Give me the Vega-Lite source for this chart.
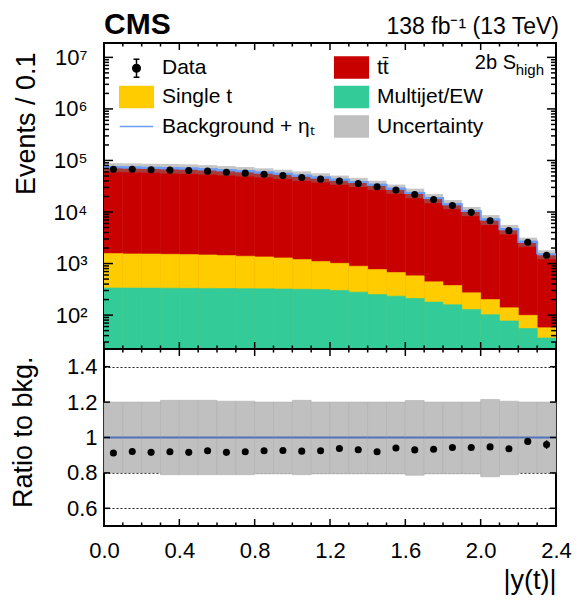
{
  "$schema": "https://vega.github.io/schema/vega-lite/v6.json",
  "padding": {"left": 8, "top": 8, "right": 20, "bottom": 4},
  "config": {
    "font": "Liberation Sans, Arial, sans-serif",
    "view": {"stroke": "black", "strokeWidth": 2},
    "axis": {
      "domain": false, "ticks": false, "zindex": 2, "grid": false,
      "labelColor": "black", "titleColor": "black", "labelFontSize": 22, "titleFontSize": 27,
      "titleFontWeight": "normal", "labelOverlap": false, "labelFlush": false
    },
    "legend": {
      "columns": 2, "columnPadding": 16, "rowPadding": 2.5, "symbolSize": 441, "symbolStrokeWidth": 1.5,
      "labelFontSize": 21, "labelOffset": 14, "labelLimit": 300, "padding": 0, "labelColor": "black"
    }
  },
  "datasets": {
    "xmaj": [{"v": 0}, {"v": 0.4}, {"v": 0.8}, {"v": 1.2}, {"v": 1.6}, {"v": 2}, {"v": 2.4}],
    "xmin": [{"v": 0.1}, {"v": 0.2}, {"v": 0.3}, {"v": 0.5}, {"v": 0.6}, {"v": 0.7}, {"v": 0.9}, {"v": 1}, {"v": 1.1}, {"v": 1.3}, {"v": 1.4}, {"v": 1.5}, {"v": 1.7}, {"v": 1.8}, {"v": 1.9}, {"v": 2.1}, {"v": 2.2}, {"v": 2.3}],
    "ymaj": [{"v": 100}, {"v": 1000}, {"v": 10000}, {"v": 100000}, {"v": 1000000}, {"v": 10000000}],
    "ymin": [{"v": 30}, {"v": 40}, {"v": 50}, {"v": 60}, {"v": 70}, {"v": 80}, {"v": 90},
      {"v": 200}, {"v": 300}, {"v": 400}, {"v": 500}, {"v": 600}, {"v": 700}, {"v": 800}, {"v": 900},
      {"v": 2000}, {"v": 3000}, {"v": 4000}, {"v": 5000}, {"v": 6000}, {"v": 7000}, {"v": 8000}, {"v": 9000},
      {"v": 20000}, {"v": 30000}, {"v": 40000}, {"v": 50000}, {"v": 60000}, {"v": 70000}, {"v": 80000}, {"v": 90000},
      {"v": 200000}, {"v": 300000}, {"v": 400000}, {"v": 500000}, {"v": 600000}, {"v": 700000}, {"v": 800000}, {"v": 900000},
      {"v": 2000000}, {"v": 3000000}, {"v": 4000000}, {"v": 5000000}, {"v": 6000000}, {"v": 7000000}, {"v": 8000000}, {"v": 9000000}],
    "rmaj": [{"v": 0.6}, {"v": 0.8}, {"v": 1}, {"v": 1.2}, {"v": 1.4}]
  },
  "data": {
    "values": [
      {"lo": 0.0, "hi": 0.1, "mid": 0.05, "mj": 336, "st": 1560, "bkg": 74000, "unc_lo": 59200, "unc_hi": 88800, "data": 67800, "ratio": 0.912, "rerr": 0.005, "dn": 0.80, "up": 1.20, "eta": 1.0},
      {"lo": 0.1, "hi": 0.2, "mid": 0.15, "mj": 335, "st": 1540, "bkg": 73300, "unc_lo": 58640, "unc_hi": 87960, "data": 67600, "ratio": 0.921, "rerr": 0.005, "dn": 0.80, "up": 1.20, "eta": 1.0},
      {"lo": 0.2, "hi": 0.3, "mid": 0.25, "mj": 334, "st": 1530, "bkg": 72000, "unc_lo": 57600, "unc_hi": 86400, "data": 65800, "ratio": 0.916, "rerr": 0.005, "dn": 0.80, "up": 1.20, "eta": 1.0},
      {"lo": 0.3, "hi": 0.4, "mid": 0.35, "mj": 333, "st": 1514, "bkg": 70700, "unc_lo": 55850, "unc_hi": 85550, "data": 64900, "ratio": 0.919, "rerr": 0.005, "dn": 0.79, "up": 1.21, "eta": 1.0},
      {"lo": 0.4, "hi": 0.5, "mid": 0.45, "mj": 331, "st": 1492, "bkg": 69500, "unc_lo": 54900, "unc_hi": 84100, "data": 63700, "ratio": 0.916, "rerr": 0.005, "dn": 0.79, "up": 1.21, "eta": 1.0},
      {"lo": 0.5, "hi": 0.6, "mid": 0.55, "mj": 330, "st": 1471, "bkg": 67200, "unc_lo": 53090, "unc_hi": 81310, "data": 62100, "ratio": 0.925, "rerr": 0.005, "dn": 0.79, "up": 1.21, "eta": 1.0},
      {"lo": 0.6, "hi": 0.7, "mid": 0.65, "mj": 328, "st": 1429, "bkg": 64700, "unc_lo": 51110, "unc_hi": 77960, "data": 59300, "ratio": 0.916, "rerr": 0.005, "dn": 0.79, "up": 1.205, "eta": 1.0},
      {"lo": 0.7, "hi": 0.8, "mid": 0.75, "mj": 326, "st": 1388, "bkg": 61800, "unc_lo": 48820, "unc_hi": 74470, "data": 56800, "ratio": 0.919, "rerr": 0.005, "dn": 0.79, "up": 1.205, "eta": 1.0},
      {"lo": 0.8, "hi": 0.9, "mid": 0.85, "mj": 324, "st": 1347, "bkg": 58600, "unc_lo": 46590, "unc_hi": 70320, "data": 54200, "ratio": 0.925, "rerr": 0.006, "dn": 0.795, "up": 1.20, "eta": 1.0},
      {"lo": 0.9, "hi": 1.0, "mid": 0.95, "mj": 321, "st": 1288, "bkg": 55100, "unc_lo": 43800, "unc_hi": 66120, "data": 51100, "ratio": 0.927, "rerr": 0.006, "dn": 0.795, "up": 1.20, "eta": 1.0},
      {"lo": 1.0, "hi": 1.1, "mid": 1.05, "mj": 318, "st": 1194, "bkg": 50800, "unc_lo": 40130, "unc_hi": 61470, "data": 46900, "ratio": 0.923, "rerr": 0.006, "dn": 0.79, "up": 1.21, "eta": 1.0},
      {"lo": 1.1, "hi": 1.2, "mid": 1.15, "mj": 314, "st": 1093, "bkg": 46900, "unc_lo": 37290, "unc_hi": 56280, "data": 43400, "ratio": 0.925, "rerr": 0.006, "dn": 0.795, "up": 1.20, "eta": 1.0},
      {"lo": 1.2, "hi": 1.3, "mid": 1.25, "mj": 301, "st": 1010, "bkg": 42400, "unc_lo": 33710, "unc_hi": 50880, "data": 39700, "ratio": 0.938, "rerr": 0.007, "dn": 0.795, "up": 1.20, "eta": 1.0},
      {"lo": 1.3, "hi": 1.4, "mid": 1.35, "mj": 279, "st": 888, "bkg": 38300, "unc_lo": 30450, "unc_hi": 45960, "data": 35700, "ratio": 0.931, "rerr": 0.007, "dn": 0.795, "up": 1.20, "eta": 1.0},
      {"lo": 1.4, "hi": 1.5, "mid": 1.45, "mj": 251, "st": 765, "bkg": 33700, "unc_lo": 26790, "unc_hi": 40440, "data": 30900, "ratio": 0.919, "rerr": 0.007, "dn": 0.795, "up": 1.20, "eta": 1.0},
      {"lo": 1.5, "hi": 1.6, "mid": 1.55, "mj": 233, "st": 670, "bkg": 28400, "unc_lo": 22580, "unc_hi": 34080, "data": 26700, "ratio": 0.941, "rerr": 0.008, "dn": 0.795, "up": 1.20, "eta": 1.0},
      {"lo": 1.6, "hi": 1.7, "mid": 1.65, "mj": 210, "st": 577, "bkg": 23500, "unc_lo": 18490, "unc_hi": 28410, "data": 21900, "ratio": 0.930, "rerr": 0.008, "dn": 0.787, "up": 1.209, "eta": 1.0},
      {"lo": 1.7, "hi": 1.8, "mid": 1.75, "mj": 179, "st": 442, "bkg": 18600, "unc_lo": 14790, "unc_hi": 22320, "data": 17400, "ratio": 0.934, "rerr": 0.009, "dn": 0.795, "up": 1.20, "eta": 1.0},
      {"lo": 1.8, "hi": 1.9, "mid": 1.85, "mj": 159, "st": 375, "bkg": 14200, "unc_lo": 11290, "unc_hi": 17040, "data": 13400, "ratio": 0.943, "rerr": 0.010, "dn": 0.795, "up": 1.20, "eta": 1.0},
      {"lo": 1.9, "hi": 2.0, "mid": 1.95, "mj": 129, "st": 271, "bkg": 10450, "unc_lo": 8310, "unc_hi": 12540, "data": 9850, "ratio": 0.943, "rerr": 0.011, "dn": 0.795, "up": 1.20, "eta": 1.0},
      {"lo": 2.0, "hi": 2.1, "mid": 2.05, "mj": 102, "st": 201, "bkg": 7170, "unc_lo": 5580, "unc_hi": 8710, "data": 6790, "ratio": 0.947, "rerr": 0.013, "dn": 0.778, "up": 1.215, "eta": 1.0},
      {"lo": 2.1, "hi": 2.2, "mid": 2.15, "mj": 77, "st": 139, "bkg": 4650, "unc_lo": 3670, "unc_hi": 5600, "data": 4350, "ratio": 0.936, "rerr": 0.015, "dn": 0.79, "up": 1.205, "eta": 1.0},
      {"lo": 2.2, "hi": 2.3, "mid": 2.25, "mj": 55, "st": 99, "bkg": 2650, "unc_lo": 2120, "unc_hi": 3180, "data": 2590, "ratio": 0.978, "rerr": 0.018, "dn": 0.80, "up": 1.20, "eta": 1.0},
      {"lo": 2.3, "hi": 2.4, "mid": 2.35, "mj": 36, "st": 57, "bkg": 1510, "unc_lo": 1210, "unc_hi": 1810, "data": 1450, "ratio": 0.960, "rerr": 0.024, "dn": 0.80, "up": 1.20, "eta": 1.0}
    ]
  },
  "spacing": 0,
  "bounds": "flush",
  "resolve": {"scale": {"fill": "independent", "stroke": "independent", "shape": "independent"}},
  "vconcat": [
    {
      "width": 452,
      "height": 306,
      "resolve": {"axis": {"x": "independent", "y": "independent"}},
      "layer": [
        {
          "mark": {"type": "rect", "color": "#c80000", "stroke": "#c80000", "strokeWidth": 0.6, "clip": true},
          "encoding": {
            "x": {"field": "lo", "type": "quantitative", "scale": {"domain": [0, 2.4], "nice": false, "zero": false}, "axis": null},
            "x2": {"field": "hi"},
            "y": {"field": "bkg", "type": "quantitative", "scale": {"type": "log", "domain": [22, 19000000], "nice": false},
              "axis": {"orient": "left", "title": "Events / 0.1", "titleAnchor": "end", "titleY": 9, "titlePadding": 13,
                "labelPadding": 17, "values": [100, 1000, 10000, 100000, 1000000, 10000000],
                "labelExpr": "'10' + ['⁰','¹','²','³','⁴','⁵','⁶','⁷','⁸'][round(log(datum.value)/LN10)]"}},
            "y2": {"datum": 1}
          }
        },
        {
          "mark": {"type": "rect", "color": "#ffcc00", "stroke": "#ffcc00", "strokeWidth": 0.6, "clip": true},
          "encoding": {
            "x": {"field": "lo", "type": "quantitative", "axis": null},
            "x2": {"field": "hi"},
            "y": {"field": "st", "type": "quantitative", "axis": null},
            "y2": {"datum": 1}
          }
        },
        {
          "mark": {"type": "rect", "color": "#33cc99", "stroke": "#33cc99", "strokeWidth": 0.6, "clip": true},
          "encoding": {
            "x": {"field": "lo", "type": "quantitative", "axis": null},
            "x2": {"field": "hi"},
            "y": {"field": "mj", "type": "quantitative", "axis": null},
            "y2": {"datum": 1}
          }
        },
        {
          "mark": {"type": "rect", "color": "#808080", "opacity": 0.45, "clip": true},
          "encoding": {
            "x": {"field": "lo", "type": "quantitative", "axis": null},
            "x2": {"field": "hi"},
            "y": {"field": "unc_lo", "type": "quantitative", "axis": null},
            "y2": {"field": "unc_hi"}
          }
        },
        {
          "mark": {"type": "line", "interpolate": "step-after", "color": "#6d9cf5", "strokeWidth": 2, "clip": true},
          "encoding": {
            "x": {"field": "lo", "type": "quantitative", "axis": null},
            "y": {"field": "bkg", "type": "quantitative", "axis": null}
          }
        },
        {
          "mark": {"type": "rule", "color": "#6d9cf5", "strokeWidth": 2},
          "encoding": {
            "x": {"field": "lo", "type": "quantitative", "axis": null},
            "x2": {"field": "hi"},
            "y": {"field": "bkg", "type": "quantitative", "axis": null}
          }
        },
        {
          "mark": {"type": "point", "filled": true, "color": "black", "size": 50, "opacity": 1},
          "encoding": {
            "x": {"field": "mid", "type": "quantitative", "axis": null},
            "y": {"field": "data", "type": "quantitative", "axis": null}
          }
        },
        {
          "data": {"name": "xmaj"},
          "mark": {"type": "rule", "color": "black", "strokeWidth": 1.5},
          "encoding": {
            "x": {"field": "v", "type": "quantitative", "axis": null},
            "y": {"datum": 22, "type": "quantitative", "axis": null},
            "y2": {"datum": 30}
          }
        },
        {
          "data": {"name": "xmaj"},
          "mark": {"type": "rule", "color": "black", "strokeWidth": 1.5},
          "encoding": {
            "x": {"field": "v", "type": "quantitative", "axis": null},
            "y": {"datum": 19000000, "type": "quantitative", "axis": null},
            "y2": {"datum": 13900000}
          }
        },
        {
          "data": {"name": "xmin"},
          "mark": {"type": "rule", "color": "black", "strokeWidth": 1.5},
          "encoding": {
            "x": {"field": "v", "type": "quantitative", "axis": null},
            "y": {"datum": 22, "type": "quantitative", "axis": null},
            "y2": {"datum": 25.7}
          }
        },
        {
          "data": {"name": "xmin"},
          "mark": {"type": "rule", "color": "black", "strokeWidth": 1.5},
          "encoding": {
            "x": {"field": "v", "type": "quantitative", "axis": null},
            "y": {"datum": 19000000, "type": "quantitative", "axis": null},
            "y2": {"datum": 16250000}
          }
        },
        {
          "data": {"name": "ymaj"},
          "mark": {"type": "rule", "color": "black", "strokeWidth": 1.5},
          "encoding": {
            "y": {"field": "v", "type": "quantitative", "axis": null},
            "x": {"datum": 0, "type": "quantitative", "axis": null},
            "x2": {"datum": 0.048}
          }
        },
        {
          "data": {"name": "ymaj"},
          "mark": {"type": "rule", "color": "black", "strokeWidth": 1.5},
          "encoding": {
            "y": {"field": "v", "type": "quantitative", "axis": null},
            "x": {"datum": 2.4, "type": "quantitative", "axis": null},
            "x2": {"datum": 2.352}
          }
        },
        {
          "data": {"name": "ymin"},
          "mark": {"type": "rule", "color": "black", "strokeWidth": 1.5},
          "encoding": {
            "y": {"field": "v", "type": "quantitative", "axis": null},
            "x": {"datum": 0, "type": "quantitative", "axis": null},
            "x2": {"datum": 0.0265}
          }
        },
        {
          "data": {"name": "ymin"},
          "mark": {"type": "rule", "color": "black", "strokeWidth": 1.5},
          "encoding": {
            "y": {"field": "v", "type": "quantitative", "axis": null},
            "x": {"datum": 2.4, "type": "quantitative", "axis": null},
            "x2": {"datum": 2.3735}
          }
        },
        {
          "data": {"values": [{"t": "CMS"}]},
          "mark": {"type": "text", "align": "left", "baseline": "alphabetic", "fontSize": 30, "fontWeight": "bold", "color": "black"},
          "encoding": {
            "x": {"datum": 0, "type": "quantitative", "axis": null},
            "y": {"datum": 28500000, "type": "quantitative", "axis": null},
            "text": {"field": "t"}
          }
        },
        {
          "data": {"values": [{"t": "138 fb⁻¹ (13 TeV)"}]},
          "mark": {"type": "text", "align": "right", "baseline": "alphabetic", "fontSize": 23, "dx": 3, "color": "black"},
          "encoding": {
            "x": {"datum": 2.4, "type": "quantitative", "axis": null},
            "y": {"datum": 28500000, "type": "quantitative", "axis": null},
            "text": {"field": "t"}
          }
        },
        {
          "data": {"values": [{"t": "2b S"}]},
          "mark": {"type": "text", "align": "right", "baseline": "alphabetic", "fontSize": 20, "dx": -40, "color": "black"},
          "encoding": {
            "x": {"datum": 2.4, "type": "quantitative", "axis": null},
            "y": {"datum": 6000000, "type": "quantitative", "axis": null},
            "text": {"field": "t"}
          }
        },
        {
          "data": {"values": [{"t": "high"}]},
          "mark": {"type": "text", "align": "right", "baseline": "alphabetic", "fontSize": 15, "dx": -12, "dy": 6, "color": "black"},
          "encoding": {
            "x": {"datum": 2.4, "type": "quantitative", "axis": null},
            "y": {"datum": 6000000, "type": "quantitative", "axis": null},
            "text": {"field": "t"}
          }
        },
        {
          "data": {"values": []},
          "mark": {"type": "point", "filled": true, "opacity": 1},
          "encoding": {
            "fill": {"datum": "Data",
              "scale": {"domain": ["Data", "Single t", "Background + ηₜ", "tt̄", "Multijet/EW", "Uncertainty"],
                "range": ["#000000", "#ffcc00", "#6d9cf5", "#c80000", "#33cc99", "#c0c0c0"]},
              "legend": {"title": null, "orient": "none", "legendX": 21, "legendY": 13}},
            "stroke": {"datum": "Data",
              "scale": {"domain": ["Data", "Single t", "Background + ηₜ", "tt̄", "Multijet/EW", "Uncertainty"],
                "range": ["#000000", "#ffcc00", "#6d9cf5", "#c80000", "#33cc99", "#c0c0c0"]},
              "legend": {"title": null, "orient": "none", "legendX": 21, "legendY": 13}},
            "shape": {"datum": "Data",
              "scale": {"domain": ["Data", "Single t", "Background + ηₜ", "tt̄", "Multijet/EW", "Uncertainty"],
                "range": ["M0,-0.85V0.85M-0.28,-0.85H0.28M-0.28,0.85H0.28M-0.36,0A0.36,0.36,0,1,0,0.36,0A0.36,0.36,0,1,0,-0.36,0Z",
                  "M-1.6,-1H1.6V1H-1.6Z", "M-1.6,0H1.6", "M-1.6,-1H1.6V1H-1.6Z", "M-1.6,-1H1.6V1H-1.6Z", "M-1.6,-1H1.6V1H-1.6Z"]},
              "legend": {"title": null, "orient": "none", "legendX": 21, "legendY": 13}}
          }
        }
      ]
    },
    {
      "width": 452,
      "height": 177,
      "resolve": {"axis": {"x": "independent", "y": "independent"}},
      "layer": [
        {
          "mark": {"type": "rect", "color": "#c0c0c0", "stroke": "#b0b0b0", "strokeWidth": 0.6},
          "encoding": {
            "x": {"field": "lo", "type": "quantitative", "scale": {"domain": [0, 2.4], "nice": false, "zero": false},
              "axis": {"orient": "bottom", "title": "|y(t)|", "titleAnchor": "end", "titlePadding": 6, "labelPadding": 14,
                "values": [0, 0.4, 0.8, 1.2, 1.6, 2, 2.4], "format": ".1f"}},
            "x2": {"field": "hi"},
            "y": {"field": "dn", "type": "quantitative", "scale": {"domain": [0.5, 1.5], "nice": false, "zero": false},
              "axis": {"orient": "left", "title": "Ratio to bkg.", "titleAnchor": "end", "titleY": 7, "titlePadding": 29,
                "labelPadding": 7, "values": [0.6, 0.8, 1, 1.2, 1.4], "format": "~g",
                "grid": true, "gridColor": "#222222", "gridDash": [2, 2], "gridWidth": 1}},
            "y2": {"field": "up"}
          }
        },
        {
          "mark": {"type": "rule", "color": "#4f72b8", "strokeWidth": 2},
          "encoding": {
            "x": {"field": "lo", "type": "quantitative", "axis": null},
            "x2": {"field": "hi"},
            "y": {"field": "eta", "type": "quantitative", "axis": null}
          }
        },
        {
          "mark": {"type": "errorbar", "color": "black", "thickness": 1.5},
          "encoding": {
            "x": {"field": "mid", "type": "quantitative", "axis": null},
            "y": {"field": "ratio", "type": "quantitative", "axis": null},
            "yError": {"field": "rerr"}
          }
        },
        {
          "mark": {"type": "point", "filled": true, "color": "black", "size": 50, "opacity": 1},
          "encoding": {
            "x": {"field": "mid", "type": "quantitative", "axis": null},
            "y": {"field": "ratio", "type": "quantitative", "axis": null}
          }
        },
        {
          "data": {"name": "xmaj"},
          "mark": {"type": "rule", "color": "black", "strokeWidth": 1.5},
          "encoding": {
            "x": {"field": "v", "type": "quantitative", "axis": null},
            "y": {"datum": 0.5, "type": "quantitative", "axis": null},
            "y2": {"datum": 0.5395}
          }
        },
        {
          "data": {"name": "xmaj"},
          "mark": {"type": "rule", "color": "black", "strokeWidth": 1.5},
          "encoding": {
            "x": {"field": "v", "type": "quantitative", "axis": null},
            "y": {"datum": 1.5, "type": "quantitative", "axis": null},
            "y2": {"datum": 1.4605}
          }
        },
        {
          "data": {"name": "xmin"},
          "mark": {"type": "rule", "color": "black", "strokeWidth": 1.5},
          "encoding": {
            "x": {"field": "v", "type": "quantitative", "axis": null},
            "y": {"datum": 0.5, "type": "quantitative", "axis": null},
            "y2": {"datum": 0.5198}
          }
        },
        {
          "data": {"name": "xmin"},
          "mark": {"type": "rule", "color": "black", "strokeWidth": 1.5},
          "encoding": {
            "x": {"field": "v", "type": "quantitative", "axis": null},
            "y": {"datum": 1.5, "type": "quantitative", "axis": null},
            "y2": {"datum": 1.4802}
          }
        },
        {
          "data": {"name": "rmaj"},
          "mark": {"type": "rule", "color": "black", "strokeWidth": 1.5},
          "encoding": {
            "y": {"field": "v", "type": "quantitative", "axis": null},
            "x": {"datum": 0, "type": "quantitative", "axis": null},
            "x2": {"datum": 0.032}
          }
        },
        {
          "data": {"name": "rmaj"},
          "mark": {"type": "rule", "color": "black", "strokeWidth": 1.5},
          "encoding": {
            "y": {"field": "v", "type": "quantitative", "axis": null},
            "x": {"datum": 2.4, "type": "quantitative", "axis": null},
            "x2": {"datum": 2.368}
          }
        }
      ]
    }
  ]
}
